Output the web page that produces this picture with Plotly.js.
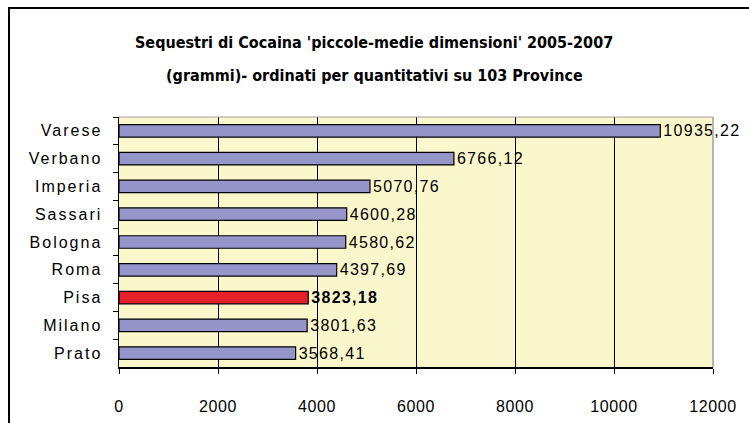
<!DOCTYPE html>
<html>
<head>
<meta charset="utf-8">
<script src="https://cdn.plot.ly/plotly-3.0.1.min.js"></script>
<style>
body{margin:0;padding:0;background:#fff;}
#chart{width:749px;height:423px;}
.ytick text, text.ytick{letter-spacing:2px;}
.xtick text, text.xtick{letter-spacing:0.6px;}
text.bartext{letter-spacing:1.3px;}
</style>
</head>
<body>
<div id="chart"></div>
<script>
const province = ["Varese","Verbano","Imperia","Sassari","Bologna","Roma","Pisa","Milano","Prato"];
const grammi = [10935.22, 6766.12, 5070.76, 4600.28, 4580.62, 4397.69, 3823.18, 3801.63, 3568.41];
const xTicks = [0, 2000, 4000, 6000, 8000, 10000, 12000];
const titleLines = ["Sequestri di Cocaina 'piccole-medie dimensioni' 2005-2007",
                    "(grammi)- ordinati per quantitativi su 103 Province"];
const highlight = "Pisa";

const fmt = v => v.toFixed(2).replace('.', ',');
const labels = province.map((p,i) => p === highlight ? "<b>" + fmt(grammi[i]) + "</b>" : fmt(grammi[i]));
const colors = province.map(p => p === highlight ? "#E5202A" : "#9595C9");

const L = 119, R = 36, T = 117, B = 56, W = 749, H = 423;
const pw = W - L - R, ph = H - T - B;
const px = x => (x - L) / pw;
const py = y => (H - B - y) / ph;

const trace = {
  type: "bar",
  orientation: "h",
  y: province,
  x: grammi,
  text: labels,
  textposition: "outside",
  constraintext: "none",
  cliponaxis: false,
  textfont: {family: "Liberation Sans", size: 16, color: "#000"},
  marker: {color: colors, line: {color: "#000", width: 1.2}},
  width: 0.45,
  hoverinfo: "none"
};

const layout = {
  width: W, height: H,
  margin: {l: L, r: R, t: T, b: B, pad: 0},
  paper_bgcolor: "#fff",
  plot_bgcolor: "#FBF7CC",
  showlegend: false,
  font: {family: "Liberation Sans", color: "#000"},
  xaxis: {
    range: [0, 12000], tickvals: xTicks, ticktext: xTicks.map(String),
    showgrid: true, gridcolor: "#000", gridwidth: 1,
    showline: true, linecolor: "#000", linewidth: 1.5,
    ticks: "outside", ticklen: 5, tickcolor: "#000",
    tickfont: {family: "Liberation Sans", size: 16, color: "#000"},
    ticklabelstandoff: 19, zeroline: false, fixedrange: true
  },
  yaxis: {
    autorange: "reversed", type: "category",
    showgrid: false, showline: true, linecolor: "#000", linewidth: 1.5,
    ticks: "outside", ticklen: 5, tickcolor: "#000", tickson: "boundaries",
    tickfont: {family: "Liberation Sans", size: 16, color: "#000"},
    ticklabelstandoff: 12, zeroline: false, fixedrange: true
  },
  shapes: [
    {type: "line", xref: "paper", yref: "paper", x0: 0, x1: 1, y0: 1, y1: 1, line: {color: "#A0A0A0", width: 1}, layer: "above"},
    {type: "line", xref: "paper", yref: "paper", x0: 1, x1: 1, y0: 0, y1: 1, line: {color: "#A0A0A0", width: 1.5}, layer: "above"},
    {type: "rect", xref: "paper", yref: "paper", x0: px(9), x1: 2, y0: -1, y1: py(8), line: {color: "#000", width: 2}, fillcolor: "rgba(0,0,0,0)"}
  ],
  annotations: titleLines.map((t, i) => ({
    text: "<b>" + t + "</b>", xref: "paper", yref: "paper",
    x: px(374), y: py(i === 0 ? 43 : 75), xanchor: "center", yanchor: "middle",
    showarrow: false, font: {family: "DejaVu Sans Condensed", size: 16, color: "#000"}
  }))
};

Plotly.newPlot("chart", [trace], layout, {displayModeBar: false, staticPlot: true});
</script>
</body>
</html>
